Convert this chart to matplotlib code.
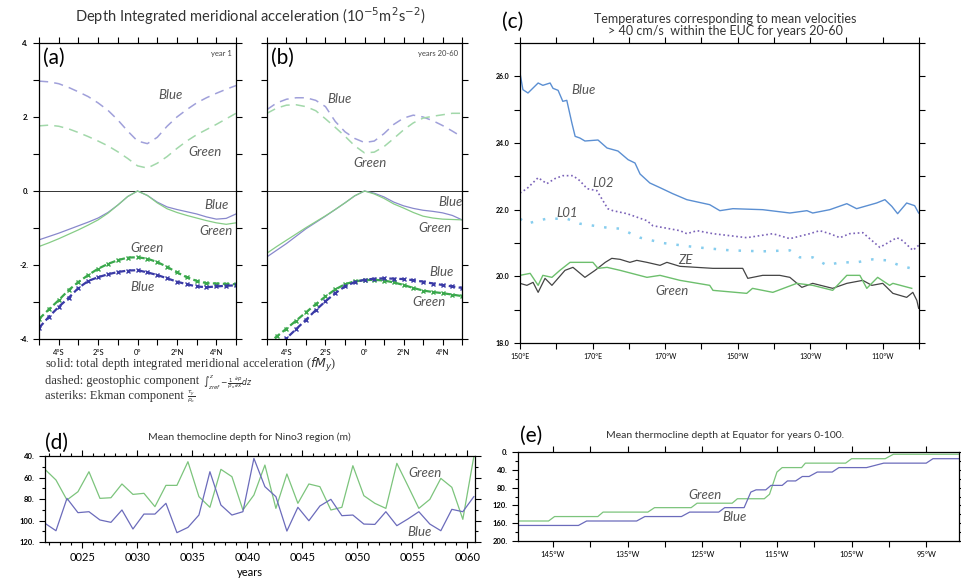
import numpy as np
import matplotlib.pyplot as plt

plt.rcParams['font.family'] = ['Lato', 'DejaVu Sans']

# ---------------- data ----------------
# panels (a)/(b): latitude grid (deg, S negative)
lat = np.arange(-5, 5.01, 0.5)

# (a) year 1
a_blue_dash = [2.97, 2.95, 2.9, 2.8, 2.68, 2.55, 2.38, 2.18, 1.92, 1.62, 1.35,
               1.28, 1.45, 1.75, 2.0, 2.2, 2.38, 2.52, 2.64, 2.75, 2.85]
a_green_dash = [1.76, 1.78, 1.75, 1.68, 1.58, 1.47, 1.35, 1.22, 1.06, 0.88, 0.68,
                0.62, 0.75, 0.93, 1.15, 1.35, 1.52, 1.66, 1.8, 1.95, 2.1]
a_blue_solid = [-1.32, -1.23, -1.14, -1.04, -0.94, -0.84, -0.73, -0.58, -0.38, -0.15, 0.0,
                -0.12, -0.3, -0.43, -0.5, -0.56, -0.62, -0.7, -0.76, -0.74, -0.62]
a_green_solid = [-1.5, -1.4, -1.29, -1.17, -1.05, -0.92, -0.78, -0.6, -0.38, -0.15, 0.0,
                 -0.12, -0.32, -0.48, -0.58, -0.66, -0.73, -0.8, -0.86, -0.9, -0.86]
a_green_ek = [-3.46, -3.2, -2.95, -2.68, -2.46, -2.27, -2.1, -1.97, -1.87, -1.8, -1.79,
              -1.83, -1.92, -2.05, -2.2, -2.33, -2.43, -2.49, -2.5, -2.51, -2.52]
a_blue_ek = [-3.7, -3.4, -3.13, -2.89, -2.62, -2.43, -2.33, -2.25, -2.19, -2.15, -2.14,
             -2.2, -2.27, -2.36, -2.45, -2.52, -2.58, -2.6, -2.58, -2.56, -2.55]

# (b) years 20-60
b_blue_dash = [2.2, 2.38, 2.48, 2.52, 2.52, 2.45, 2.28, 1.88, 1.6, 1.42, 1.31,
               1.35, 1.55, 1.8, 1.97, 2.05, 2.0, 1.9, 1.77, 1.62, 1.46]
b_green_dash = [2.1, 2.24, 2.32, 2.33, 2.28, 2.17, 1.95, 1.72, 1.48, 1.22, 1.03,
                1.05, 1.2, 1.42, 1.65, 1.84, 1.97, 2.02, 2.06, 2.1, 2.1]
b_blue_solid = [-1.78, -1.6, -1.42, -1.22, -1.02, -0.85, -0.68, -0.5, -0.32, -0.13, 0.0,
                -0.06, -0.16, -0.3, -0.4, -0.47, -0.52, -0.55, -0.59, -0.66, -0.78]
b_green_solid = [-1.68, -1.5, -1.33, -1.16, -0.99, -0.83, -0.67, -0.5, -0.32, -0.13, 0.0,
                 -0.08, -0.2, -0.35, -0.46, -0.58, -0.68, -0.73, -0.76, -0.77, -0.78]
b_green_ek = [-4.15, -3.93, -3.72, -3.5, -3.28, -3.06, -2.85, -2.66, -2.52, -2.44, -2.41,
              -2.4, -2.42, -2.47, -2.54, -2.62, -2.69, -2.73, -2.76, -2.8, -2.84]
b_blue_ek = [-4.45, -4.22, -3.98, -3.73, -3.48, -3.22, -2.98, -2.76, -2.58, -2.46, -2.4,
             -2.37, -2.36, -2.37, -2.38, -2.41, -2.45, -2.5, -2.54, -2.58, -2.62]

# (c) EUC temperatures, longitude in degrees east
c_blue_lon = [150.0, 150.8, 152.2, 155.0, 156.3, 158.3, 159.1, 160.5, 161.8, 162.9, 164.3,
              165.2, 166.5, 167.9, 171.5, 174.0, 177.0, 179.8, 181.7, 183.1, 185.8, 188.6,
              192.1, 196.0, 202.3, 205.1, 208.7, 216.9, 224.4, 229.1, 230.7, 235.4, 240.1,
              242.8, 248.3, 250.6, 252.5, 254.1, 256.6, 258.8, 259.9]
c_blue = [26.1, 25.6, 25.5, 25.8, 25.73, 25.8, 25.64, 25.58, 25.25, 25.28, 24.6,
          24.2, 24.15, 24.06, 24.09, 23.85, 23.76, 23.5, 23.4, 23.07, 22.8, 22.66,
          22.48, 22.3, 22.15, 21.97, 22.03, 22.0, 21.9, 21.97, 21.9, 22.0, 22.18,
          22.03, 22.2, 22.3, 22.1, 21.88, 22.2, 22.12, 21.9]
c_l02_lon = [150.0, 151.9, 155.0, 157.4, 159.6, 161.8, 164.6, 166.5, 168.5, 171.2, 174.2,
             175.6, 179.5, 185.0, 186.6, 194.1, 196.0, 198.8, 203.2, 212.5, 219.7, 224.4,
             229.9, 232.6, 235.4, 238.2, 240.9, 244.5, 249.2, 253.9, 255.5, 258.3, 259.9]
c_l02 = [22.5, 22.63, 22.96, 22.78, 22.93, 23.02, 23.02, 22.87, 22.63, 22.57, 22.03,
         21.97, 21.88, 21.67, 21.52, 21.37, 21.28, 21.37, 21.28, 21.16, 21.28, 21.13,
         21.28, 21.37, 21.28, 21.16, 21.28, 21.31, 20.87, 21.16, 21.07, 20.78, 20.93]
c_l01_lon = [150.0, 151.9, 155.0, 157.4, 162.9, 166.5, 174.0, 177.6, 183.1, 189.4, 198.8,
             207.9, 216.9, 224.4, 227.1, 230.7, 234.6, 238.2, 242.8, 247.2, 251.1, 254.6, 259.9]
c_l01 = [21.73, 21.58, 21.67, 21.73, 21.73, 21.58, 21.46, 21.43, 21.16, 21.0, 20.87,
         20.78, 20.75, 20.78, 20.57, 20.57, 20.33, 20.42, 20.42, 20.51, 20.48, 20.33, 20.18]
c_ze_lon = [150.0, 151.9, 153.6, 155.0, 156.9, 158.8, 162.4, 164.6, 167.9, 170.7, 173.5,
            175.3, 177.6, 180.3, 182.2, 185.0, 188.6, 190.5, 194.1, 203.2, 211.4, 212.8,
            216.9, 221.6, 224.4, 227.7, 230.7, 236.2, 240.1, 244.5, 247.0, 250.0, 252.8,
            256.6, 258.3, 259.4, 259.9]
c_ze = [19.79, 19.73, 19.82, 19.52, 19.94, 19.73, 20.18, 20.27, 19.97, 20.18, 20.42,
        20.54, 20.51, 20.42, 20.48, 20.42, 20.33, 20.42, 20.3, 20.24, 20.24, 19.94,
        20.03, 20.03, 19.97, 19.67, 19.79, 19.64, 19.79, 19.88, 19.73, 19.79, 19.49,
        19.37, 19.52, 19.28, 19.04]
c_green_lon = [150.0, 152.8, 155.0, 156.3, 158.8, 161.0, 163.8, 166.5, 170.1, 171.5, 174.0,
               177.6, 185.0, 188.6, 194.1, 202.3, 203.2, 212.5, 214.1, 219.7, 226.3, 230.7,
               236.2, 240.1, 243.7, 245.6, 248.6, 251.9, 252.8, 258.0]
c_green = [20.03, 20.09, 19.73, 20.03, 19.97, 20.18, 20.42, 20.42, 20.42, 20.24, 20.27,
           20.18, 19.97, 20.03, 19.88, 19.73, 19.58, 19.49, 19.64, 19.52, 19.79, 19.73,
           19.58, 20.03, 20.03, 19.64, 19.97, 19.73, 19.79, 19.64]

# (d) Nino3 thermocline depth, one value per year
years = np.arange(21, 61) + 0.6
d_green = [52.4, 62.3, 80.9, 73.2, 54.6, 79.4, 78.8, 66.0, 75.7, 74.7, 87.1, 67.3, 67.3,
           45.3, 77.8, 87.7, 52.4, 59.2, 90.2, 76.3, 48.4, 88.7, 56.7, 84.0, 66.0, 68.5,
           90.2, 87.7, 49.0, 76.9, 84.0, 88.7, 46.8, 67.6, 88.7, 80.3, 60.8, 69.1, 98.9, 40.6]
d_blue = [102.6, 109.5, 79.4, 92.7, 91.8, 99.5, 101.7, 90.2, 107.9, 94.0, 94.0, 84.0, 111.3,
          106.4, 94.9, 54.6, 85.6, 94.9, 91.8, 42.2, 68.5, 77.8, 109.8, 87.7, 100.2, 86.5,
          80.3, 95.5, 94.9, 103.3, 103.6, 91.8, 104.8, 98.6, 91.8, 103.3, 109.5, 89.6, 91.8, 77.8]

# (e) equatorial thermocline depth, longitude (negative = W)
e_green_lon = [-149.7, -145.6, -144.8, -139.0, -138.3, -132.3, -131.4, -126.5, -125.7,
               -121.0, -120.3, -116.7, -116.0, -115.0, -114.3, -111.7, -111.2, -105.8,
               -105.0, -100.5, -99.4, -90.5]
e_green = [155, 155, 145, 145, 135, 135, 125, 125, 115, 115, 105, 105, 95, 45, 35, 35,
           25, 25, 15, 15, 5, 5]
e_blue_lon = [-149.7, -141.6, -140.5, -133.8, -132.7, -127.8, -126.7, -122.8, -122.0,
              -119.4, -118.5, -117.8, -116.5, -115.8, -114.3, -113.6, -112.5, -111.6,
              -110.7, -109.6, -107.6, -106.7, -103.0, -100.7, -95.0, -94.1, -90.5]
e_blue = [165, 165, 155, 155, 145, 145, 135, 135, 125, 125, 90, 85, 85, 75, 75, 65, 65,
          55, 55, 45, 45, 35, 35, 25, 25, 15, 15]

# ---------------- styles ----------------
LBLUE = '#a0a0da'
LGREEN = '#a2d8aa'
SBLUE = '#8888cc'
SGREEN = '#86cc86'
EBLUE = '#3a3aa6'
EGREEN = '#3aa84c'
GRAY = '#555555'

fig = plt.figure(figsize=(9.61, 5.81), dpi=100)


def box(ax):
    for s in ax.spines.values():
        s.set_linewidth(0.9)
    ax.tick_params(which='both', direction='out', top=True, right=True,
                   labelsize=5.5, width=0.8)
    ax.tick_params(which='major', length=4)
    ax.tick_params(which='minor', length=2.5)


def lab(ax, x, y, s):
    ax.text(x, y, s, fontsize=9.5, style='italic', color=GRAY, ha='center', va='center')


# ---------------- (a) and (b) ----------------
ax_a = fig.add_axes([0.0406, 0.4165, 0.205, 0.5095])
ax_b = fig.add_axes([0.2778, 0.4165, 0.203, 0.5095])
xt = np.arange(-5, 6)
xl = ['', '4°S', '', '2°S', '', '0°', '', '2°N', '', '4°N', '']
for ax, d in [(ax_a, (a_blue_dash, a_green_dash, a_blue_solid, a_green_solid, a_green_ek, a_blue_ek)),
              (ax_b, (b_blue_dash, b_green_dash, b_blue_solid, b_green_solid, b_green_ek, b_blue_ek))]:
    bd, gd, bs, gs, ge, be = d
    ax.axhline(0, color='#333333', lw=0.7)
    ax.plot(lat, bd, color=LBLUE, lw=1.1, dashes=(6, 4))
    ax.plot(lat, gd, color=LGREEN, lw=1.1, dashes=(6, 4))
    ax.plot(lat, bs, color=SBLUE, lw=0.9)
    ax.plot(lat, gs, color=SGREEN, lw=0.9)
    ax.plot(lat, ge, color=EGREEN, lw=1.6, dashes=(3, 1.5), marker='x', ms=3, mew=1)
    ax.plot(lat, be, color=EBLUE, lw=1.6, dashes=(3, 1.5), marker='x', ms=3, mew=1)
    ax.set_xlim(-5, 5)
    ax.set_ylim(-4, 4)
    ax.set_xticks(xt)
    ax.set_xticklabels(xl)
    ax.set_yticks(np.arange(-4, 5))
    box(ax)
ax_a.set_yticklabels(['-4.', '', '-2.', '', '0.', '', '2.', '', '4.'], fontweight='bold')
ax_b.set_yticklabels([])

ax_a.text(0.02, 0.985, '(a)', transform=ax_a.transAxes, fontsize=15, va='top')
ax_b.text(0.02, 0.985, '(b)', transform=ax_b.transAxes, fontsize=15, va='top')
ax_a.text(0.98, 0.975, 'year 1', transform=ax_a.transAxes, fontsize=5.5, ha='right', va='top', color='#444')
ax_b.text(0.98, 0.975, 'years 20-60', transform=ax_b.transAxes, fontsize=5.5, ha='right', va='top', color='#444')

lab(ax_a, 1.7, 2.6, 'Blue')
lab(ax_a, 3.4, 1.05, 'Green')
lab(ax_a, 4.0, -0.38, 'Blue')
lab(ax_a, 4.0, -1.08, 'Green')
lab(ax_a, 0.5, -1.54, 'Green')
lab(ax_a, 0.25, -2.6, 'Blue')
lab(ax_b, -1.26, 2.49, 'Blue')
lab(ax_b, 0.3, 0.76, 'Green')
lab(ax_b, 4.4, -0.3, 'Blue')
lab(ax_b, 3.6, -1.0, 'Green')
lab(ax_b, 3.95, -2.2, 'Blue')
lab(ax_b, 3.3, -3.0, 'Green')

fig.text(0.26, 0.972, r'Depth Integrated meridional acceleration (10$^{-5}$m$^{2}$s$^{-2}$)',
         ha='center', va='center', fontsize=10.5, color='#333')

# caption under (a)/(b): words in serif, formulas small
cap = dict(fontsize=9, family='Liberation Serif', color='#333', va='center')
fig.text(0.047, 0.371, r'solid: total depth integrated meridional acceleration ($fM_y$)', **cap)
t2 = fig.text(0.047, 0.344, 'dashed: geostophic component ', **cap)
t3 = fig.text(0.047, 0.319, 'asteriks: Ekman component ', **cap)
fig.canvas.draw()
x2 = t2.get_window_extent().x1 / fig.bbox.width
x3 = t3.get_window_extent().x1 / fig.bbox.width
fig.text(x2, 0.342, r'$\int_{zref}^{z}-\frac{1}{\rho_o}\frac{\partial p}{\partial x}dz$',
         fontsize=5.5, color='#333', va='center')
fig.text(x3, 0.317, r'$\frac{\tau_y}{\rho_o}$', fontsize=6, color='#333', va='center')

# ---------------- (c) ----------------
ax_c = fig.add_axes([0.5411, 0.4096, 0.4152, 0.5164])
ax_c.plot(c_blue_lon, c_blue, color='#5b8fd2', lw=1.0)
ax_c.plot(c_l02_lon, c_l02, color='#7a62b8', lw=1.2, ls=(0, (1, 1.6)))
ax_c.plot(c_l01_lon, c_l01, color='#86cdee', lw=1.8, ls=(0, (1, 4)))
ax_c.plot(c_ze_lon, c_ze, color='#444444', lw=0.9)
ax_c.plot(c_green_lon, c_green, color='#6dbf6d', lw=1.0)
ax_c.set_xlim(150, 260)
ax_c.set_ylim(18, 27)
ax_c.set_xticks(np.arange(150, 261, 10))
ax_c.set_xticklabels(['150°E', '', '170°E', '', '170°W', '', '150°W', '', '130°W', '', '110°W', ''])
ax_c.set_yticks(np.arange(18, 28))
ax_c.set_yticklabels(['18.0', '', '20.0', '', '22.0', '', '24.0', '', '26.0', ''], fontweight='bold')
box(ax_c)
ax_c.tick_params(labelsize=5)
lab(ax_c, 167.4, 25.6, 'Blue')
lab(ax_c, 172.9, 22.8, 'L02')
lab(ax_c, 163.0, 21.9, 'L01')
lab(ax_c, 195.5, 20.48, 'ZE')
lab(ax_c, 191.9, 19.55, 'Green')
fig.text(0.533, 0.962, '(c)', fontsize=15, ha='center', va='center')
fig.text(0.755, 0.968, 'Temperatures corresponding to mean velocities', ha='center',
         va='center', fontsize=9, color='#333')
fig.text(0.755, 0.946, '> 40 cm/s  within the EUC for years 20-60', ha='center',
         va='center', fontsize=9, color='#333')

# ---------------- (d) ----------------
ax_d = fig.add_axes([0.0468, 0.0671, 0.4474, 0.148])
ax_d.plot(years, d_green, color='#7cc47c', lw=0.9)
ax_d.plot(years, d_blue, color='#6b6bbb', lw=0.9)
ax_d.set_xlim(21.6, 60.7)
ax_d.set_ylim(120, 40)
ax_d.set_xticks(np.arange(25, 61, 5))
ax_d.set_xticklabels(['%04d' % y for y in range(25, 61, 5)])
ax_d.set_xticks(np.arange(22, 61), minor=True)
ax_d.set_yticks([40, 60, 80, 100, 120])
ax_d.set_yticklabels(['40.', '60.', '80.', '100.', '120.'], fontweight='bold')
ax_d.set_yticks(np.arange(40, 121, 10), minor=True)
box(ax_d)
ax_d.tick_params(axis='x', labelsize=8)
lab(ax_d, 56.2, 55.8, 'Green')
lab(ax_d, 55.7, 110.7, 'Blue')
fig.text(0.047, 0.238, '(d)', fontsize=15, va='center')
fig.text(0.26, 0.248, 'Mean themocline depth for Nino3 region (m)', ha='center',
         va='center', fontsize=7.5, color='#333')
fig.text(0.26, 0.015, 'years', ha='center', va='center', fontsize=8)

# ---------------- (e) ----------------
ax_e = fig.add_axes([0.539, 0.0688, 0.459, 0.1532])
ax_e.plot(e_green_lon, e_green, color='#7cc47c', lw=0.9)
ax_e.plot(e_blue_lon, e_blue, color='#6b6bbb', lw=0.9)
ax_e.set_xlim(-149.7, -90.6)
ax_e.set_ylim(200, 0)
ax_e.set_xticks(np.arange(-145, -90, 5))
ax_e.set_xticklabels(['145°W', '', '135°W', '', '125°W', '', '115°W', '', '105°W', '', '95°W'])
ax_e.set_yticks(np.arange(0, 201, 40))
ax_e.set_yticklabels(['0.', '40.', '80.', '120.', '160.', '200.'], fontweight='bold')
ax_e.set_yticks(np.arange(0, 201, 20), minor=True)
box(ax_e)
lab(ax_e, -124.6, 96.6, 'Green')
lab(ax_e, -120.7, 146, 'Blue')
fig.text(0.541, 0.25, '(e)', fontsize=15, va='center')
fig.text(0.755, 0.251, 'Mean thermocline depth at Equator for years 0-100.', ha='center',
         va='center', fontsize=7.5, color='#333')

fig.savefig('out.png', dpi=100)
